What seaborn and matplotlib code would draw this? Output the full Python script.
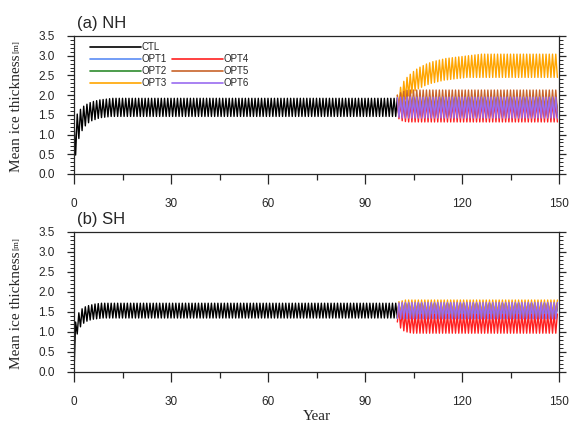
import numpy as np
import pandas as pd
import seaborn as sns
import matplotlib.pyplot as plt
from matplotlib.lines import Line2D
from matplotlib.ticker import MultipleLocator

runs = ['CTL', 'OPT1', 'OPT2', 'OPT3', 'OPT4', 'OPT5', 'OPT6']
colors = ['black', '#5b8cf5', '#2e8b2e', '#ffa500', '#ff2020', '#c8642a', '#9a6cf0']
n_years = 150
branch_year = 100

# annual max / min of the seasonal cycle
# (spin-up years listed one by one, then the steady value)
nh_ctl_max = [1.35, 1.52, 1.64, 1.72, 1.77, 1.81, 1.84, 1.86, 1.88, 1.89, 1.90, 1.91]
nh_ctl_min = [0.48, 0.90, 1.10, 1.22, 1.30, 1.35, 1.38, 1.41, 1.43, 1.44, 1.45, 1.46]
nh_ctl_steady = (1.92, 1.46)

sh_ctl_max = [1.25, 1.48, 1.58, 1.63, 1.66, 1.68, 1.70, 1.71, 1.72]
sh_ctl_min = [0.00, 0.95, 1.13, 1.22, 1.27, 1.30, 1.32, 1.33, 1.34]
sh_ctl_steady = (1.72, 1.35)

# branch runs from year 100: (max list, min list, steady max, steady min)
nh_opt = {
    'OPT1': ([1.92, 1.90], [1.46, 1.55, 1.60], 1.90, 1.62),
    'OPT2': ([1.93], [1.46, 1.48], 1.95, 1.50),
    'OPT3': ([2.00, 2.20, 2.35, 2.45, 2.53, 2.60, 2.66, 2.71, 2.75, 2.79, 2.82, 2.85,
              2.87, 2.89, 2.91, 2.93, 2.94, 2.95, 2.96, 2.97, 2.98, 2.99, 3.00, 3.01,
              3.02, 3.03],
             [1.70, 1.80, 1.90, 1.98, 2.05, 2.11, 2.16, 2.20, 2.24, 2.27, 2.30, 2.32,
              2.34, 2.36, 2.38, 2.39, 2.40, 2.41, 2.42, 2.43, 2.44],
             3.04, 2.45),
    'OPT4': ([1.90, 1.87], [1.40, 1.35, 1.33], 1.85, 1.32),
    'OPT5': ([2.00, 2.06, 2.10, 2.12], [1.50, 1.56, 1.59], 2.13, 1.60),
    'OPT6': ([1.94], [1.44], 1.95, 1.42),
}
sh_opt = {
    'OPT1': ([1.71], [1.35], 1.70, 1.35),
    'OPT2': ([1.72], [1.35], 1.72, 1.36),
    'OPT3': ([1.76, 1.78], [1.40, 1.43], 1.80, 1.45),
    'OPT4': ([1.60, 1.52, 1.48, 1.46], [1.25, 1.10, 1.03, 1.00, 0.98], 1.45, 0.97),
    'OPT5': ([1.70], [1.35], 1.70, 1.35),
    'OPT6': ([1.73], [1.34], 1.74, 1.33),
}


def fill(values, steady, n):
    return list(values) + [steady] * (n - len(values))


def zigzag(years, vmax, vmin, max_first):
    # one max and one min per year
    rows = []
    for y, hi, lo in zip(years, vmax, vmin):
        if max_first:
            rows += [(y, hi), (y + 0.5, lo)]
        else:
            rows += [(y, lo), (y + 0.5, hi)]
    return rows


frames = []
for hemi, ctl_max, ctl_min, steady, opts, max_first in [
        ('NH', nh_ctl_max, nh_ctl_min, nh_ctl_steady, nh_opt, True),
        ('SH', sh_ctl_max, sh_ctl_min, sh_ctl_steady, sh_opt, False)]:
    years = np.arange(n_years)
    rows = zigzag(years, fill(ctl_max, steady[0], n_years),
                  fill(ctl_min, steady[1], n_years), max_first)
    d = pd.DataFrame(rows, columns=['time', 'thick'])
    d['run'] = 'CTL'
    d['hemi'] = hemi
    frames.append(d)
    yrs = np.arange(branch_year, n_years)
    for r in runs[1:]:
        mx, mn, smx, smn = opts[r]
        rows = zigzag(yrs, fill(mx, smx, len(yrs)), fill(mn, smn, len(yrs)), max_first)
        d = pd.DataFrame(rows, columns=['time', 'thick'])
        d['run'] = r
        d['hemi'] = hemi
        frames.append(d)
df = pd.concat(frames, ignore_index=True)

sns.set_style('ticks')
plt.rcParams['font.family'] = ['Liberation Sans', 'DejaVu Sans']

fig = plt.figure(figsize=(5.72, 4.25), dpi=100)
W, H = 572, 425
ax1 = fig.add_axes([74 / W, 1 - 174 / H, 485 / W, 138 / H])
ax2 = fig.add_axes([74 / W, 1 - 372 / H, 485 / W, 140 / H])

for ax, hemi, title in [(ax1, 'NH', '(a) NH'), (ax2, 'SH', '(b) SH')]:
    sns.lineplot(data=df[df['hemi'] == hemi], x='time', y='thick', hue='run',
                 hue_order=runs, palette=colors, estimator=None, legend=False,
                 lw=1.0, ax=ax)
    ax.set_xlim(0, 150)
    ax.set_ylim(0, 3.5)
    ax.xaxis.set_major_locator(MultipleLocator(30))
    ax.xaxis.set_minor_locator(MultipleLocator(15))
    ax.yaxis.set_major_locator(MultipleLocator(0.5))
    ax.yaxis.set_minor_locator(MultipleLocator(0.1))
    ax.yaxis.set_major_formatter(plt.FormatStrFormatter('%.1f'))
    ax.tick_params(axis='x', which='major', direction='out', length=7, width=0.9,
                   pad=10, labelsize=8.5)
    ax.tick_params(axis='x', which='minor', direction='out', length=4.5, width=0.9)
    ax.tick_params(axis='y', which='major', direction='out', length=5, width=0.9,
                   pad=9, labelsize=8.5, right=True)
    ax.tick_params(axis='y', which='minor', direction='out', length=3, width=0.7,
                   right=True)
    for s in ax.spines.values():
        s.set_visible(True)
        s.set_linewidth(0.9)
    ax.set_xlabel('')
    ax.set_ylabel('')
    ax.set_title(title, loc='left', fontsize=12, pad=6, x=0.006)
    ax.text(-0.118, 0.44, 'Mean ice thickness', rotation=90, ha='center', va='center',
            transform=ax.transAxes, fontsize=11, family=['Liberation Serif'])
    ax.text(-0.118, 0.92, '[m]', rotation=90, ha='center', va='center',
            transform=ax.transAxes, fontsize=6.5, family=['Liberation Serif'])

ax2.set_xlabel('Year', fontsize=11, family=['Liberation Serif'], labelpad=2)

handles = [Line2D([], [], color=c, lw=1.2) for c in colors]
blank = Line2D([], [], color='none')
leg = ax1.legend(handles[:4] + [blank] + handles[4:],
                 runs[:4] + [''] + runs[4:],
                 ncol=2, loc='upper left', bbox_to_anchor=(0.033, 0.955),
                 frameon=False, fontsize=7, handlelength=5.2, handletextpad=0.05,
                 columnspacing=0.6, labelspacing=0.2, borderpad=0, borderaxespad=0)

fig.savefig('out.png', dpi=100)
